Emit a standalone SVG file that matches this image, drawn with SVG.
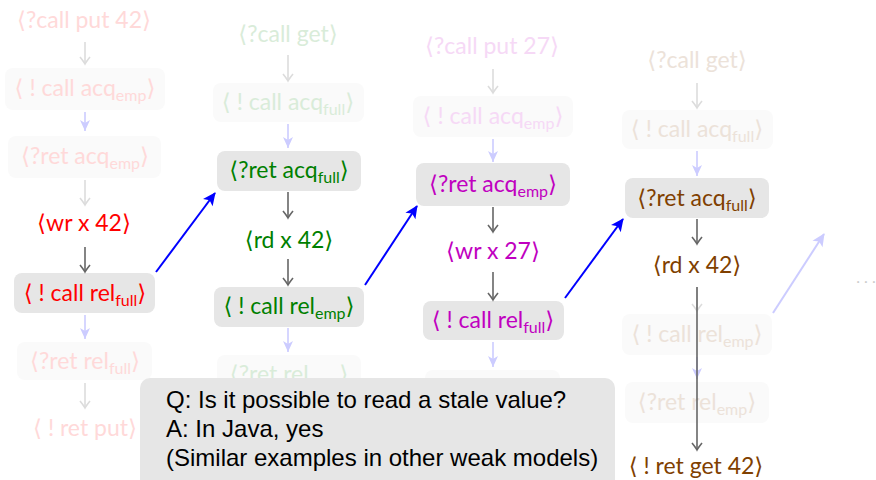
<svg xmlns="http://www.w3.org/2000/svg" width="876" height="480" viewBox="0 0 876 480">
<defs>
<style>
text{font-family:Lato,"DejaVu Sans",sans-serif;font-size:23px;text-anchor:middle}
.sub{font-size:16px}
.box{fill:#e6e6e6}
.fbox{fill:#fafafa}
.r{fill:#ff0000}.fr{fill:#ffd9d9}
.g{fill:#008000}.fg{fill:#d9ecd9}
.m{fill:#c000c0}.fm{fill:#f6d9f6}
.b{fill:#804000}.fb{fill:#ece2d9}
.dk{stroke:#666;stroke-width:1.6;fill:none;marker-end:url(#to)}
.fk{stroke:#dcdcdc;stroke-width:1.6;fill:none;marker-end:url(#tof)}
.fbl{stroke:#ccccff;stroke-width:1.6;fill:none;marker-end:url(#trif)}
.bl{stroke:#0000ff;stroke-width:2;fill:none;marker-end:url(#tri)}
.fbl2{stroke:#ccccff;stroke-width:2;fill:none;marker-end:url(#trif2)}
.q{font-family:"Liberation Sans",Arial,sans-serif;font-size:24px;text-anchor:start;fill:#000}
</style>
<marker id="to" markerUnits="userSpaceOnUse" markerWidth="20" markerHeight="20" viewBox="-10 -10 20 20" refX="0" refY="0" orient="auto" overflow="visible"><path d="M-7,-5 Q-2,-1 0,0 Q-2,1 -7,5" stroke="#666" stroke-width="1.6" fill="none"/></marker>
<marker id="tof" markerUnits="userSpaceOnUse" markerWidth="20" markerHeight="20" viewBox="-10 -10 20 20" refX="0" refY="0" orient="auto" overflow="visible"><path d="M-7,-5 Q-2,-1 0,0 Q-2,1 -7,5" stroke="#dcdcdc" stroke-width="1.6" fill="none"/></marker>
<marker id="trif" markerUnits="userSpaceOnUse" markerWidth="20" markerHeight="20" viewBox="-12 -10 20 20" refX="0" refY="0" orient="auto" overflow="visible"><path d="M0,0 L-11,-5 L-8,0 L-11,5 Z" fill="#ccccff"/></marker>
<marker id="tri" markerUnits="userSpaceOnUse" markerWidth="20" markerHeight="20" viewBox="-14 -10 20 20" refX="0" refY="0" orient="auto" overflow="visible"><path d="M1,0 L-12,-6 L-9,0 L-12,6 Z" fill="#0000ff"/></marker>
<marker id="trif2" markerUnits="userSpaceOnUse" markerWidth="20" markerHeight="20" viewBox="-14 -10 20 20" refX="0" refY="0" orient="auto" overflow="visible"><path d="M1,0 L-12,-6 L-9,0 L-12,6 Z" fill="#ccccff"/></marker>
</defs>
<rect width="876" height="480" fill="#fff"/>

<!-- column 1 -->
<g id="c1n1"><text x="84" y="28" class="fr">⟨?call put 42⟩</text></g>
<g id="c1n2"><rect class="fbox" x="5" y="68" width="160" height="42" rx="8"/><text x="85" y="96" class="fr">⟨ ! call acq<tspan class="sub" dy="5">emp</tspan><tspan dy="-5">⟩</tspan></text></g>
<g id="c1n3"><rect class="fbox" x="8" y="136" width="153" height="42" rx="8"/><text x="85" y="164" class="fr">⟨?ret acq<tspan class="sub" dy="5">emp</tspan><tspan dy="-5">⟩</tspan></text></g>
<g id="c1n4"><text x="84" y="231" class="r">⟨wr x 42⟩</text></g>
<g id="c1n5"><rect class="box" x="14" y="273" width="141" height="40" rx="8"/><text x="85" y="301" class="r">⟨ ! call rel<tspan class="sub" dy="5">full</tspan><tspan dy="-5">⟩</tspan></text></g>
<g id="c1n6"><rect class="fbox" x="17" y="342" width="135" height="38" rx="8"/><text x="85" y="369" class="fr">⟨?ret rel<tspan class="sub" dy="5">full</tspan><tspan dy="-5">⟩</tspan></text></g>
<g id="c1n7"><text x="85" y="436" class="fr">⟨ ! ret put⟩</text></g>

<!-- column 2 -->
<g id="c2n1"><text x="288" y="42" class="fg">⟨?call get⟩</text></g>
<g id="c2n2"><rect class="fbox" x="213" y="83" width="151" height="39" rx="8"/><text x="288" y="110" class="fg">⟨ ! call acq<tspan class="sub" dy="5">full</tspan><tspan dy="-5">⟩</tspan></text></g>
<g id="c2n3"><rect class="box" x="217" y="151" width="144" height="40" rx="8"/><text x="289" y="178" class="g">⟨?ret acq<tspan class="sub" dy="5">full</tspan><tspan dy="-5">⟩</tspan></text></g>
<g id="c2n4"><text x="289" y="248" class="g">⟨rd x 42⟩</text></g>
<g id="c2n5"><rect class="box" x="214" y="287" width="150" height="40" rx="8"/><text x="289" y="314" class="g">⟨ ! call rel<tspan class="sub" dy="5">emp</tspan><tspan dy="-5">⟩</tspan></text></g>
<g id="c2n6"><rect class="fbox" x="217" y="355" width="144" height="40" rx="8"/><text x="289" y="382" class="fg">⟨?ret rel<tspan class="sub" dy="5">emp</tspan><tspan dy="-5">⟩</tspan></text></g>

<!-- column 3 -->
<g id="c3n1"><text x="492" y="54" class="fm">⟨?call put 27⟩</text></g>
<g id="c3n2"><rect class="fbox" x="413" y="96" width="160" height="41" rx="8"/><text x="493" y="124" class="fm">⟨ ! call acq<tspan class="sub" dy="5">emp</tspan><tspan dy="-5">⟩</tspan></text></g>
<g id="c3n3"><rect class="box" x="416" y="163" width="154" height="43" rx="8"/><text x="493" y="192" class="m">⟨?ret acq<tspan class="sub" dy="5">emp</tspan><tspan dy="-5">⟩</tspan></text></g>
<g id="c3n4"><text x="493" y="259" class="m">⟨wr x 27⟩</text></g>
<g id="c3n5"><rect class="box" x="423" y="301" width="141" height="39" rx="8"/><text x="493" y="328" class="m">⟨ ! call rel<tspan class="sub" dy="5">full</tspan><tspan dy="-5">⟩</tspan></text></g>
<g id="c3n6"><rect class="fbox" x="425" y="370" width="135" height="38" rx="8"/></g>

<!-- column 4 -->
<g id="c4n1"><text x="697" y="68" class="fb">⟨?call get⟩</text></g>
<g id="c4n2"><rect class="fbox" x="622" y="110" width="151" height="39" rx="8"/><text x="697" y="137" class="fb">⟨ ! call acq<tspan class="sub" dy="5">full</tspan><tspan dy="-5">⟩</tspan></text></g>
<g id="c4n3"><rect class="box" x="625" y="178" width="144" height="40" rx="8"/><text x="697" y="206" class="b">⟨?ret acq<tspan class="sub" dy="5">full</tspan><tspan dy="-5">⟩</tspan></text></g>
<g id="c4n4"><text x="697" y="273" class="b">⟨rd x 42⟩</text></g>
<g id="c4n5"><rect class="fbox" x="622" y="314" width="150" height="41" rx="8"/><text x="697" y="342" class="fb">⟨ ! call rel<tspan class="sub" dy="5">emp</tspan><tspan dy="-5">⟩</tspan></text></g>
<g id="c4n6"><rect class="fbox" x="625" y="382" width="144" height="41" rx="8"/><text x="697" y="410" class="fb">⟨?ret rel<tspan class="sub" dy="5">emp</tspan><tspan dy="-5">⟩</tspan></text></g>
<g id="c4n7"><text x="696" y="474" class="b">⟨ ! ret get 42⟩</text></g>

<g id="more"><text x="866" y="283" style="fill:#cccccc;font-size:16px">. . .</text></g>

<g id="connectors">
<line class="fk" x1="85" y1="42" x2="85" y2="64"/>
<line class="fbl" x1="85" y1="112" x2="85" y2="131"/>
<line class="fk" x1="85" y1="180" x2="85" y2="205"/>
<line class="dk" x1="85" y1="247" x2="85" y2="272"/>
<line class="fbl" x1="85" y1="315" x2="85" y2="339"/>
<line class="fk" x1="85" y1="383" x2="85" y2="408"/>

<line class="fk" x1="288" y1="55" x2="288" y2="81"/>
<line class="fbl" x1="288" y1="124" x2="288" y2="148"/>
<line class="dk" x1="288" y1="192" x2="288" y2="218"/>
<line class="dk" x1="288" y1="259" x2="288" y2="285"/>
<line class="fbl" x1="288" y1="328" x2="288" y2="352"/>

<line class="fk" x1="493" y1="69" x2="493" y2="93"/>
<line class="fbl" x1="493" y1="139" x2="493" y2="162"/>
<line class="dk" x1="493" y1="207" x2="493" y2="232"/>
<line class="dk" x1="493" y1="272" x2="493" y2="300"/>
<line class="fbl" x1="493" y1="342" x2="493" y2="367"/>

<line class="fk" x1="697" y1="83" x2="697" y2="108"/>
<line class="fbl" x1="697" y1="151" x2="697" y2="176"/>
<line class="dk" x1="697" y1="219" x2="697" y2="244"/>
<line class="fk" x1="697" y1="287" x2="697" y2="311"/>
<line class="fbl" x1="697" y1="357" x2="697" y2="379"/>
<line class="dk" x1="697" y1="287" x2="697" y2="450"/>

<line class="bl" x1="156" y1="272" x2="215" y2="193"/>
<line class="bl" x1="365" y1="285" x2="417" y2="206"/>
<line class="bl" x1="565" y1="298" x2="623" y2="219"/>
<line class="fbl2" x1="773" y1="313" x2="824" y2="234"/>
</g>

<g id="question">
<rect x="140" y="378" width="475" height="112" rx="10" fill="#e6e6e6"/>
<text class="q" x="166" y="408">Q: Is it possible to read a stale value?</text>
<text class="q" x="166" y="437">A: In Java, yes</text>
<text class="q" x="166" y="466">(Similar examples in other weak models)</text>
</g>
</svg>
